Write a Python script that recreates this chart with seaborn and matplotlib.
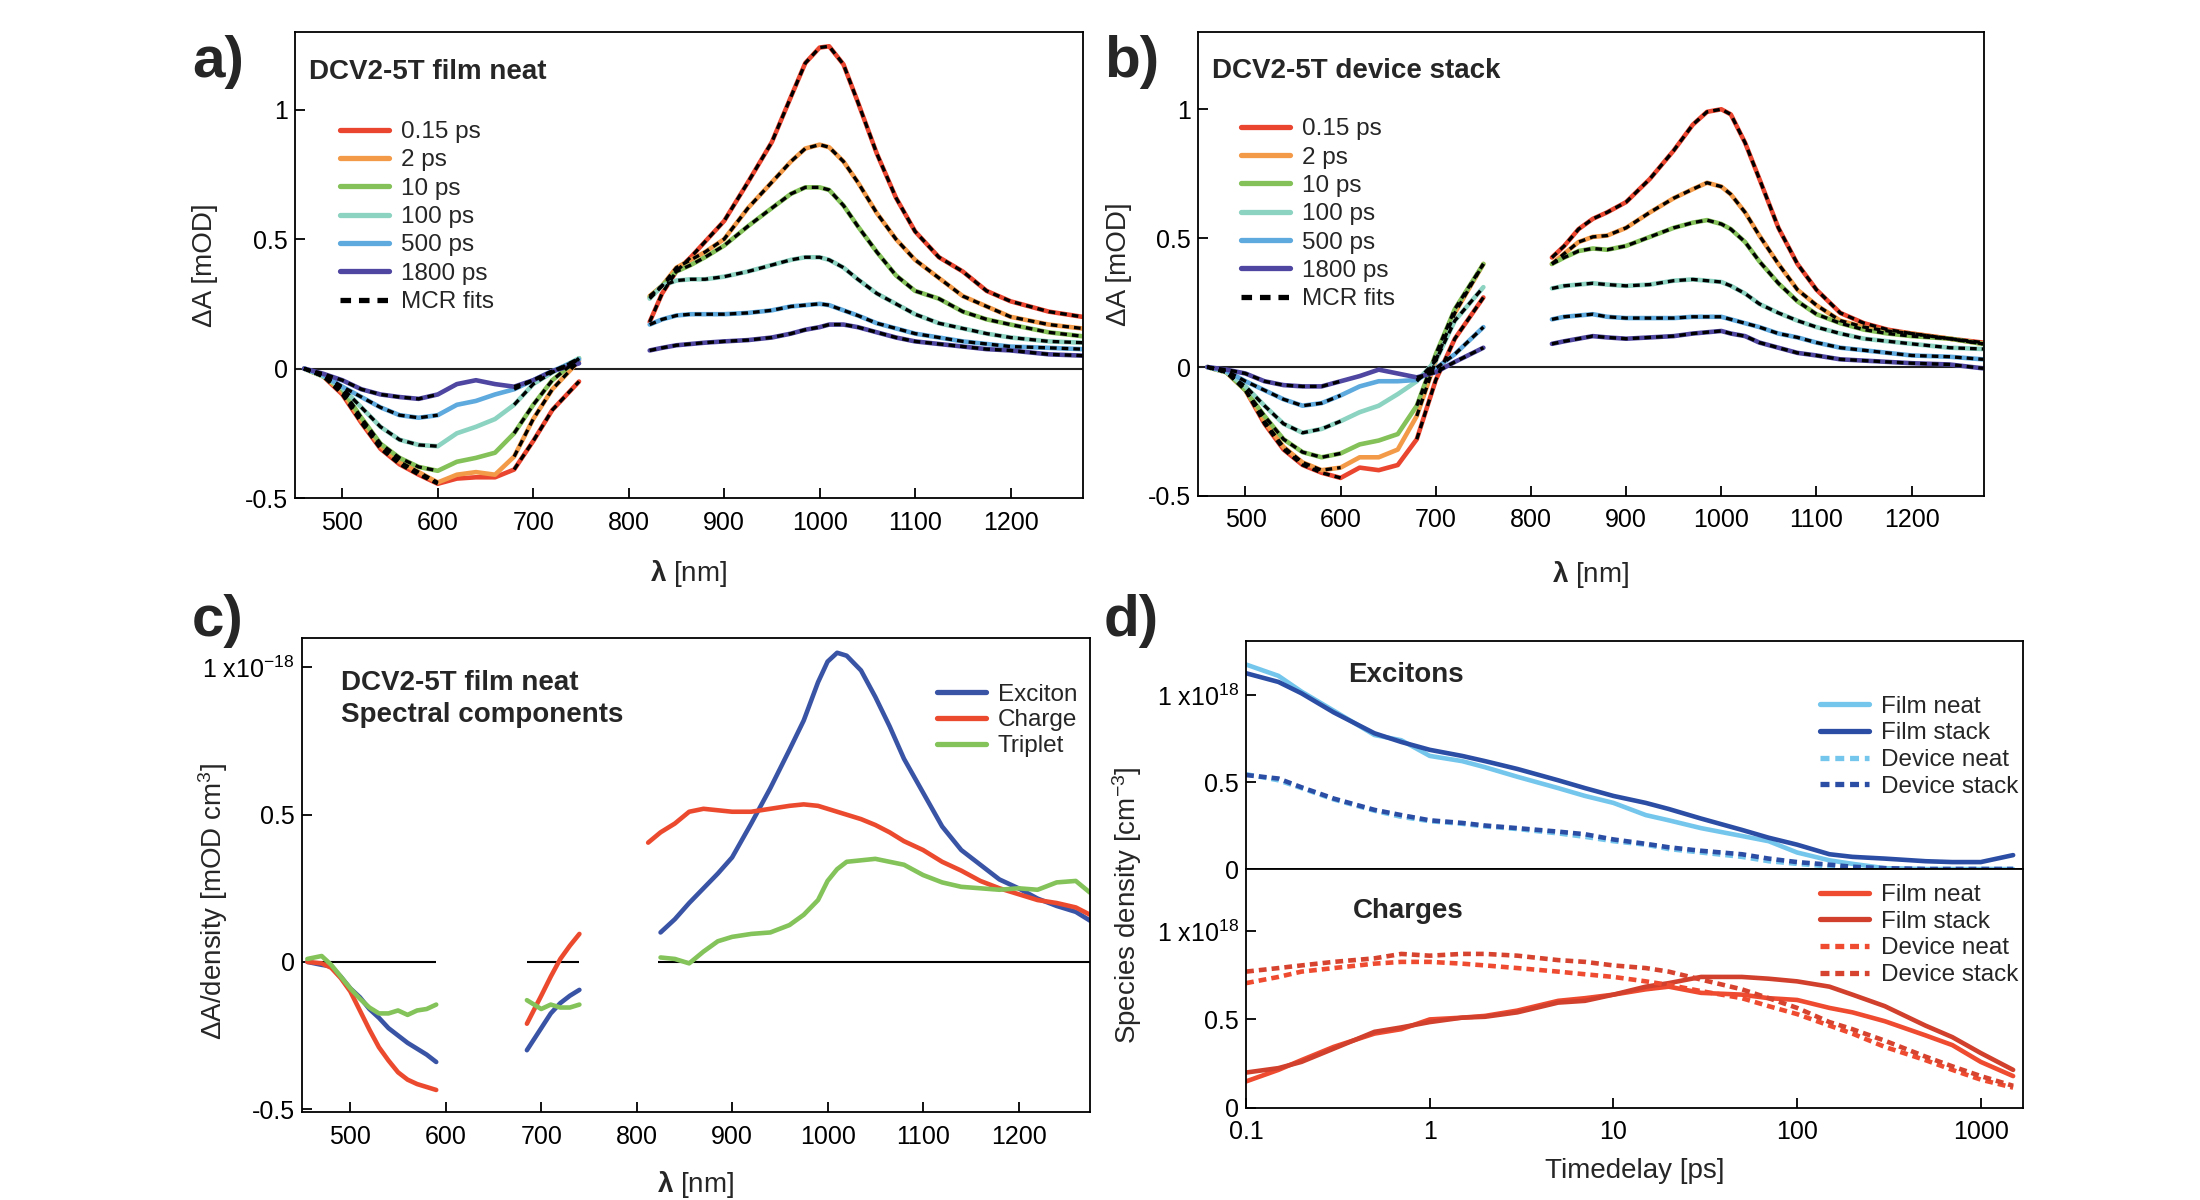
import numpy as np
import pandas as pd
import seaborn as sns
import matplotlib.pyplot as plt
from matplotlib.lines import Line2D
from matplotlib.ticker import FixedLocator, LogLocator, NullFormatter

nan = np.nan

# ---------------- panel a / b : transient spectra ----------------
DELAYS = ['0.15 ps', '2 ps', '10 ps', '100 ps', '500 ps', '1800 ps']
DELAY_COLORS = ['#E9452F', '#F39A48', '#84C159', '#8CD3C2', '#5EA9DD', '#4E46A0']

WL_VIS_A = [460, 480, 500, 520, 540, 560, 580, 600, 620, 640, 660, 680, 700, 720, 748]
WL_VIS_B = [460, 480, 500, 520, 540, 560, 580, 600, 620, 640, 660, 680, 700, 720, 750]
WL_NIR = [822, 835, 850, 865, 880, 900, 925, 950, 970, 985, 1000, 1010, 1025, 1040,
          1060, 1080, 1100, 1125, 1150, 1175, 1200, 1240, 1275]

A_VIS_015 = [0.0, -0.03, -0.10, -0.21, -0.31, -0.37, -0.41, -0.445, -0.425, -0.42, -0.42, -0.39, -0.28, -0.16, -0.05]
A_VIS_2 = [0.0, -0.03, -0.09, -0.20, -0.30, -0.36, -0.40, -0.44, -0.41, -0.40, -0.41, -0.34, -0.195, -0.08, 0.03]
A_VIS_10 = [0.0, -0.03, -0.08, -0.19, -0.29, -0.345, -0.38, -0.395, -0.36, -0.345, -0.325, -0.25, -0.14, -0.045, 0.04]
A_VIS_100 = [0.0, -0.03, -0.075, -0.15, -0.225, -0.275, -0.295, -0.30, -0.25, -0.225, -0.195, -0.14, -0.06, -0.015, 0.04]
A_VIS_500 = [0.0, -0.025, -0.07, -0.11, -0.15, -0.18, -0.19, -0.18, -0.14, -0.125, -0.10, -0.08, -0.045, -0.01, 0.035]
A_VIS_1800 = [0.0, -0.02, -0.045, -0.08, -0.10, -0.11, -0.117, -0.10, -0.06, -0.045, -0.06, -0.07, -0.045, -0.01, 0.02]

A_NIR_015 = [0.18, 0.29, 0.376, 0.43, 0.49, 0.57, 0.72, 0.875, 1.05, 1.18, 1.24, 1.245, 1.175, 1.03,
             0.83, 0.66, 0.53, 0.43, 0.375, 0.30, 0.26, 0.22, 0.20]
A_NIR_2 = [0.28, 0.32, 0.39, 0.42, 0.45, 0.50, 0.62, 0.72, 0.80, 0.85, 0.865, 0.855, 0.80, 0.72,
           0.60, 0.50, 0.42, 0.35, 0.28, 0.24, 0.20, 0.17, 0.155]
A_NIR_10 = [0.275, 0.32, 0.375, 0.40, 0.43, 0.475, 0.55, 0.62, 0.675, 0.70, 0.70, 0.69, 0.63, 0.55,
            0.45, 0.36, 0.30, 0.27, 0.22, 0.19, 0.17, 0.14, 0.125]
A_NIR_100 = [0.27, 0.32, 0.34, 0.345, 0.345, 0.355, 0.375, 0.40, 0.42, 0.43, 0.43, 0.42, 0.39, 0.345,
             0.29, 0.25, 0.21, 0.175, 0.155, 0.135, 0.12, 0.105, 0.10]
A_NIR_500 = [0.17, 0.19, 0.205, 0.21, 0.21, 0.21, 0.215, 0.225, 0.24, 0.245, 0.25, 0.245, 0.225, 0.205,
             0.175, 0.155, 0.135, 0.12, 0.105, 0.095, 0.085, 0.08, 0.075]
A_NIR_1800 = [0.07, 0.08, 0.09, 0.095, 0.10, 0.105, 0.11, 0.12, 0.135, 0.15, 0.16, 0.17, 0.17, 0.16,
              0.14, 0.12, 0.105, 0.095, 0.085, 0.075, 0.07, 0.055, 0.05]

B_VIS_015 = [0.0, -0.02, -0.09, -0.22, -0.32, -0.38, -0.41, -0.43, -0.39, -0.40, -0.38, -0.28, -0.05, 0.11, 0.27]
B_VIS_2 = [0.0, -0.02, -0.09, -0.21, -0.31, -0.37, -0.40, -0.39, -0.35, -0.35, -0.32, -0.19, 0.025, 0.21, 0.40]
B_VIS_10 = [0.0, -0.02, -0.09, -0.19, -0.28, -0.33, -0.35, -0.335, -0.30, -0.285, -0.26, -0.15, 0.05, 0.225, 0.40]
B_VIS_100 = [0.0, -0.02, -0.075, -0.15, -0.22, -0.255, -0.24, -0.21, -0.175, -0.15, -0.105, -0.055, 0.025, 0.18, 0.31]
B_VIS_500 = [0.0, -0.015, -0.055, -0.09, -0.125, -0.15, -0.14, -0.11, -0.075, -0.055, -0.055, -0.05, -0.005, 0.05, 0.155]
B_VIS_1800 = [0.0, -0.01, -0.025, -0.055, -0.07, -0.075, -0.075, -0.055, -0.035, -0.01, -0.025, -0.04, -0.02, 0.02, 0.075]

B_NIR_015 = [0.425, 0.47, 0.535, 0.575, 0.60, 0.64, 0.73, 0.84, 0.94, 0.99, 1.0, 0.98, 0.87, 0.73,
             0.54, 0.40, 0.30, 0.21, 0.17, 0.145, 0.13, 0.11, 0.095]
B_NIR_2 = [0.40, 0.44, 0.485, 0.505, 0.51, 0.54, 0.60, 0.655, 0.69, 0.715, 0.70, 0.67, 0.60, 0.51,
           0.40, 0.30, 0.24, 0.18, 0.155, 0.14, 0.13, 0.11, 0.09]
B_NIR_10 = [0.40, 0.425, 0.45, 0.46, 0.455, 0.47, 0.505, 0.54, 0.56, 0.57, 0.555, 0.535, 0.485, 0.41,
            0.325, 0.255, 0.205, 0.17, 0.145, 0.13, 0.12, 0.11, 0.09]
B_NIR_100 = [0.305, 0.315, 0.32, 0.325, 0.32, 0.315, 0.32, 0.335, 0.34, 0.335, 0.33, 0.315, 0.285, 0.245,
             0.21, 0.18, 0.155, 0.13, 0.11, 0.10, 0.09, 0.075, 0.07]
B_NIR_500 = [0.185, 0.195, 0.20, 0.205, 0.195, 0.19, 0.19, 0.19, 0.195, 0.195, 0.195, 0.185, 0.17, 0.155,
             0.13, 0.115, 0.095, 0.075, 0.065, 0.055, 0.045, 0.04, 0.03]
B_NIR_1800 = [0.09, 0.10, 0.11, 0.12, 0.115, 0.11, 0.115, 0.12, 0.13, 0.135, 0.14, 0.13, 0.12, 0.095,
              0.075, 0.055, 0.045, 0.03, 0.025, 0.02, 0.015, 0.01, -0.005]

# ---------------- panel c : spectral components ----------------
COMPONENTS = ['Exciton', 'Charge', 'Triplet']
COMP_COLORS = ['#3A54A5', '#EC4A2F', '#83C35A']
C_WL_1 = [455, 470, 480, 490, 500, 510, 520, 530, 540, 550, 560, 570, 580, 590]
C_WL_2 = [685, 700, 710, 720, 730, 740]
C_WL_3 = [812, 825, 840, 855, 870, 885, 900, 920, 940, 960, 975, 990, 1000, 1010, 1020, 1035,
          1050, 1065, 1080, 1100, 1120, 1140, 1160, 1180, 1200, 1220, 1240, 1260, 1275]
C_EXC_1 = [0.0, -0.01, -0.015, -0.05, -0.09, -0.12, -0.16, -0.19, -0.225, -0.25, -0.275, -0.295, -0.315, -0.34]
C_CHG_1 = [0.0, -0.005, -0.02, -0.055, -0.10, -0.165, -0.23, -0.29, -0.335, -0.375, -0.40, -0.415, -0.425, -0.435]
C_TRP_1 = [0.01, 0.02, -0.01, -0.05, -0.09, -0.125, -0.155, -0.175, -0.175, -0.165, -0.18, -0.165, -0.16, -0.145]
C_EXC_2 = [-0.30, -0.225, -0.175, -0.14, -0.115, -0.095]
C_CHG_2 = [-0.21, -0.115, -0.05, 0.01, 0.055, 0.095]
C_TRP_2 = [-0.13, -0.16, -0.145, -0.155, -0.155, -0.145]
C_EXC_3 = [nan, 0.10, 0.145, 0.20, 0.25, 0.30, 0.355, 0.47, 0.59, 0.72, 0.82, 0.95, 1.02, 1.05, 1.04, 0.99,
           0.90, 0.80, 0.69, 0.575, 0.46, 0.38, 0.33, 0.28, 0.25, 0.215, 0.19, 0.17, 0.14]
C_CHG_3 = [0.405, 0.44, 0.47, 0.51, 0.52, 0.515, 0.51, 0.51, 0.52, 0.53, 0.535, 0.53, 0.52, 0.51, 0.50, 0.485,
           0.465, 0.44, 0.41, 0.38, 0.34, 0.31, 0.275, 0.25, 0.23, 0.21, 0.20, 0.185, 0.16]
C_TRP_3 = [nan, 0.015, 0.01, -0.005, 0.035, 0.07, 0.085, 0.095, 0.10, 0.125, 0.16, 0.21, 0.275, 0.315, 0.34, 0.345,
           0.35, 0.34, 0.33, 0.295, 0.27, 0.255, 0.25, 0.245, 0.25, 0.245, 0.27, 0.275, 0.235]

# ---------------- panel d : species kinetics ----------------
SAMPLES = ['Film neat', 'Film stack', 'Device neat', 'Device stack']
EXC_COLORS = ['#74C6EC', '#2B4DA4', '#74C6EC', '#2B4DA4']
CHG_COLORS = ['#EE4B30', '#D0402C', '#EE4B30', '#D6432F']
T_PS = [0.1, 0.15, 0.2, 0.3, 0.5, 0.7, 1, 1.5, 2, 3, 5, 7, 10, 15, 20, 30, 50, 70, 100, 150, 200,
        300, 500, 700, 1000, 1500]
EXC_FILM_NEAT = [1.175, 1.11, 1.02, 0.91, 0.77, 0.74, 0.65, 0.62, 0.585, 0.53, 0.465, 0.42, 0.38, 0.31,
                 0.28, 0.235, 0.19, 0.16, 0.095, 0.05, 0.03, 0.005, 0.0, 0.0, 0.0, 0.0]
EXC_FILM_STACK = [1.125, 1.075, 1.01, 0.90, 0.78, 0.73, 0.685, 0.65, 0.62, 0.575, 0.51, 0.465, 0.42, 0.38,
                  0.345, 0.29, 0.225, 0.18, 0.14, 0.085, 0.07, 0.06, 0.045, 0.04, 0.04, 0.08]
EXC_DEV_NEAT = [0.545, 0.51, 0.465, 0.40, 0.335, 0.30, 0.275, 0.26, 0.245, 0.23, 0.205, 0.185, 0.16, 0.14,
                0.115, 0.095, 0.07, 0.045, 0.03, 0.015, 0.005, 0.0, 0.0, 0.0, 0.0, 0.0]
EXC_DEV_STACK = [0.54, 0.52, 0.47, 0.405, 0.34, 0.31, 0.28, 0.265, 0.25, 0.235, 0.215, 0.20, 0.17, 0.145,
                 0.125, 0.105, 0.085, 0.06, 0.04, 0.025, 0.013, 0.005, 0.0, 0.0, 0.0, 0.0]
CHG_FILM_NEAT = [0.15, 0.215, 0.27, 0.345, 0.42, 0.445, 0.50, 0.51, 0.52, 0.55, 0.605, 0.62, 0.64, 0.67,
                 0.685, 0.65, 0.64, 0.62, 0.61, 0.565, 0.54, 0.49, 0.41, 0.355, 0.26, 0.18]
CHG_FILM_STACK = [0.20, 0.225, 0.26, 0.335, 0.43, 0.455, 0.485, 0.51, 0.515, 0.54, 0.595, 0.605, 0.64, 0.685,
                  0.705, 0.74, 0.74, 0.73, 0.715, 0.685, 0.64, 0.575, 0.465, 0.40, 0.31, 0.215]
CHG_DEV_NEAT = [0.705, 0.74, 0.77, 0.79, 0.815, 0.825, 0.825, 0.815, 0.805, 0.79, 0.77, 0.755, 0.74, 0.715,
                0.695, 0.66, 0.62, 0.575, 0.53, 0.465, 0.42, 0.345, 0.27, 0.215, 0.16, 0.115]
CHG_DEV_STACK = [0.77, 0.79, 0.805, 0.825, 0.845, 0.87, 0.86, 0.87, 0.87, 0.86, 0.835, 0.825, 0.805, 0.79,
                 0.77, 0.725, 0.67, 0.62, 0.565, 0.485, 0.445, 0.38, 0.29, 0.235, 0.18, 0.125]

# ---------------- style ----------------
sns.set_theme(style='white')
plt.rcParams['font.family'] = ['Liberation Sans', 'DejaVu Sans']
plt.rcParams['mathtext.fontset'] = 'custom'
plt.rcParams['mathtext.rm'] = 'Liberation Sans'
plt.rcParams['mathtext.it'] = 'Liberation Sans:italic'
plt.rcParams['mathtext.bf'] = 'Liberation Sans:bold'
plt.rcParams['axes.linewidth'] = 1.3
plt.rcParams['axes.edgecolor'] = 'black'

TICK_FS = 18
LAB_FS = 20
LEG_FS = 17.5
TITLE_FS = 20
LW = 3.3
FIT_DASH = (0, (2.0, 1.5))


def long_frame(wls, series, labels, seg, col='label'):
    rows = []
    for lab, vals in zip(labels, series):
        for w, v in zip(wls, vals):
            rows.append((lab, f'{lab}|{seg}', w, v))
    return pd.DataFrame(rows, columns=[col, 'unit', 'x', 'y']).dropna()


def style_axes(ax, xpad=9):
    ax.tick_params(axis='both', direction='in', length=7, width=1.3, labelsize=TICK_FS,
                   colors='black', top=False, right=False, left=True, bottom=True)
    ax.tick_params(axis='x', pad=xpad)
    ax.tick_params(axis='y', pad=5)
    for s in ax.spines.values():
        s.set_color('black')
        s.set_linewidth(1.3)


def add_legend(ax, labels, colors, styles, anchor, spacing=0.26):
    handles = [Line2D([], [], color=c, lw=LW + 0.5, linestyle=s) for c, s in zip(colors, styles)]
    ax.legend(handles, labels, loc='upper left', bbox_to_anchor=anchor, frameon=False,
              fontsize=LEG_FS, handlelength=2.0, handletextpad=0.5, labelspacing=spacing,
              borderpad=0, borderaxespad=0)


def spectra_panel(ax, wl_vis, vis, nir, title, xl_y, yl_x, leg_anchor):
    data = pd.concat([long_frame(wl_vis, vis, DELAYS, 'vis', 'delay'),
                      long_frame(WL_NIR, nir, DELAYS, 'nir', 'delay')], ignore_index=True)
    sns.lineplot(data=data, x='x', y='y', hue='delay', hue_order=DELAYS, palette=DELAY_COLORS,
                 units='unit', estimator=None, sort=False, lw=LW, legend=False, ax=ax)
    # MCR fits cover the same windows as the spectral components in c)
    fits = data.copy()
    is_vis = fits['unit'].str.endswith('vis').to_numpy()
    low = is_vis & (fits['x'].to_numpy() <= 600)
    high = is_vis & (fits['x'].to_numpy() >= 680)
    fits['unit'] = np.where(low, fits['unit'] + '1', np.where(high, fits['unit'] + '2', fits['unit']))
    fits = fits[~is_vis | low | high].reset_index(drop=True)
    sns.lineplot(data=fits, x='x', y='y', units='unit', estimator=None, sort=False,
                 color='black', lw=2.4, linestyle=FIT_DASH, legend=False, ax=ax, zorder=3)
    ax.axhline(0, color='#222222', lw=1.5, zorder=1)
    ax.set_xlim(450, 1276)
    ax.set_ylim(-0.5, 1.30)
    ax.xaxis.set_major_locator(FixedLocator([500, 600, 700, 800, 900, 1000, 1100, 1200]))
    ax.yaxis.set_major_locator(FixedLocator([-0.5, 0, 0.5, 1]))
    ax.set_yticklabels(['-0.5', '0', '0.5', '1'])
    ax.set_xlabel(r'$\mathbf{λ}$ [nm]', fontsize=LAB_FS)
    ax.set_ylabel('ΔA [mOD]', fontsize=LAB_FS)
    ax.xaxis.set_label_coords(0.5, xl_y)
    ax.yaxis.set_label_coords(yl_x, 0.5)
    ax.text(0.018, 0.90, title, transform=ax.transAxes, fontsize=TITLE_FS, fontweight='bold')
    add_legend(ax, DELAYS + ['MCR fits'], DELAY_COLORS + ['black'],
               ['-'] * 6 + [FIT_DASH], leg_anchor)
    style_axes(ax)


fig = plt.figure(figsize=(22, 12), dpi=100)
ax_a = fig.add_axes([0.1339, 0.585, 0.3584, 0.3883])
ax_b = fig.add_axes([0.5445, 0.5867, 0.3573, 0.3867])
ax_c = fig.add_axes([0.1371, 0.0733, 0.3584, 0.395])
ax_du = fig.add_axes([0.5664, 0.2758, 0.3532, 0.19])
ax_dl = fig.add_axes([0.5664, 0.0767, 0.3532, 0.1992])

spectra_panel(ax_a, WL_VIS_A,
              [A_VIS_015, A_VIS_2, A_VIS_10, A_VIS_100, A_VIS_500, A_VIS_1800],
              [A_NIR_015, A_NIR_2, A_NIR_10, A_NIR_100, A_NIR_500, A_NIR_1800],
              'DCV2-5T film neat', -0.128, -0.097, (0.058, 0.809))
spectra_panel(ax_b, WL_VIS_B,
              [B_VIS_015, B_VIS_2, B_VIS_10, B_VIS_100, B_VIS_500, B_VIS_1800],
              [B_NIR_015, B_NIR_2, B_NIR_10, B_NIR_100, B_NIR_500, B_NIR_1800],
              'DCV2-5T device stack', -0.135, -0.084, (0.055, 0.814))

# ---- panel c ----
comp = pd.concat([
    long_frame(C_WL_1, [C_EXC_1, C_CHG_1, C_TRP_1], COMPONENTS, 's1', 'comp'),
    long_frame(C_WL_2, [C_EXC_2, C_CHG_2, C_TRP_2], COMPONENTS, 's2', 'comp'),
    long_frame(C_WL_3, [C_EXC_3, C_CHG_3, C_TRP_3], COMPONENTS, 's3', 'comp'),
], ignore_index=True)
for wl in (C_WL_1, C_WL_2, [822, C_WL_3[-1]]):
    ax_c.hlines(0, min(wl), max(wl), color='black', lw=1.5, zorder=1)
sns.lineplot(data=comp, x='x', y='y', hue='comp', hue_order=COMPONENTS, palette=COMP_COLORS,
             units='unit', estimator=None, sort=False, lw=LW, legend=False, ax=ax_c)
ax_c.set_xlim(449, 1275)
ax_c.set_ylim(-0.51, 1.10)
ax_c.xaxis.set_major_locator(FixedLocator([500, 600, 700, 800, 900, 1000, 1100, 1200]))
ax_c.yaxis.set_major_locator(FixedLocator([-0.5, 0, 0.5, 1]))
ax_c.set_yticklabels(['-0.5', '0', '0.5', r'1 x10$^{-18}$'])
ax_c.set_xlabel(r'$\mathbf{λ}$ [nm]', fontsize=LAB_FS)
ax_c.set_ylabel(r'ΔA/density [mOD cm$^{3}$]', fontsize=LAB_FS)
ax_c.xaxis.set_label_coords(0.5, -0.12)
ax_c.yaxis.set_label_coords(-0.091, 0.445)
ax_c.text(0.05, 0.89, 'DCV2-5T film neat', transform=ax_c.transAxes, fontsize=TITLE_FS, fontweight='bold')
ax_c.text(0.05, 0.823, 'Spectral components', transform=ax_c.transAxes, fontsize=TITLE_FS, fontweight='bold')
add_legend(ax_c, COMPONENTS, COMP_COLORS, ['-'] * 3, (0.806, 0.904), spacing=0.16)
style_axes(ax_c)

# ---- panel d ----
d_dashes = {'Film neat': '', 'Film stack': '', 'Device neat': (1.7, 1.1), 'Device stack': (1.7, 1.1)}
LEG_STYLES = ['-', '-', (0, (1.7, 1.1)), (0, (1.7, 1.1))]
exc = long_frame(T_PS, [EXC_FILM_NEAT, EXC_FILM_STACK, EXC_DEV_NEAT, EXC_DEV_STACK], SAMPLES, 'k', 'sample')
chg = long_frame(T_PS, [CHG_FILM_NEAT, CHG_FILM_STACK, CHG_DEV_NEAT, CHG_DEV_STACK], SAMPLES, 'k', 'sample')
for ax, df, cols in ((ax_du, exc, EXC_COLORS), (ax_dl, chg, CHG_COLORS)):
    ax.set_xscale('log')
    sns.lineplot(data=df, x='x', y='y', hue='sample', hue_order=SAMPLES, palette=cols,
                 style='sample', style_order=SAMPLES, dashes=d_dashes,
                 estimator=None, sort=False, lw=LW, legend=False, ax=ax)
    ax.set_xlim(0.1, 1700)
    ax.yaxis.set_major_locator(FixedLocator([0, 0.5, 1]))
    ax.set_yticklabels(['0', '0.5', r'1 x10$^{18}$'])
    ax.set_xlabel('')
    ax.set_ylabel('')
    style_axes(ax)
    ax.xaxis.set_major_locator(LogLocator(base=10, numticks=10))
    ax.xaxis.set_minor_locator(LogLocator(base=10, subs=np.arange(2, 10), numticks=20))
    ax.xaxis.set_minor_formatter(NullFormatter())
    ax.tick_params(axis='x', which='minor', direction='in', length=5, width=1.2, top=False)

ax_du.set_ylim(0, 1.31)
ax_dl.set_ylim(0, 1.35)
ax_du.tick_params(axis='x', which='both', bottom=False, labelbottom=False)
ax_dl.set_xticks([0.1, 1, 10, 100, 1000])
ax_dl.set_xticklabels(['0.1', '1', '10', '100', '1000'])
ax_dl.set_xlim(0.1, 1700)
ax_dl.set_xlabel('Timedelay [ps]', fontsize=LAB_FS)
ax_dl.xaxis.set_label_coords(0.5, -0.21)
ax_du.text(0.131, 0.82, 'Excitons', transform=ax_du.transAxes, fontsize=TITLE_FS, fontweight='bold')
ax_dl.text(0.137, 0.795, 'Charges', transform=ax_dl.transAxes, fontsize=TITLE_FS, fontweight='bold')
add_legend(ax_du, SAMPLES, EXC_COLORS, LEG_STYLES, (0.739, 0.76), spacing=0.19)
add_legend(ax_dl, SAMPLES, CHG_COLORS, LEG_STYLES, (0.739, 0.936), spacing=0.19)
fig.text(1144 / 2200, 1 - 905 / 1200, r'Species density [cm$^{-3}$]', rotation=90,
         ha='right', va='center', fontsize=LAB_FS)

# panel letters
for lab, x, y in (('a)', 192, 77), ('b)', 1104, 77), ('c)', 192, 636), ('d)', 1104, 636)):
    fig.text(x / 2200, 1 - y / 1200, lab, fontsize=42, fontweight='bold', va='baseline')

fig.savefig('out.png', dpi=100)
